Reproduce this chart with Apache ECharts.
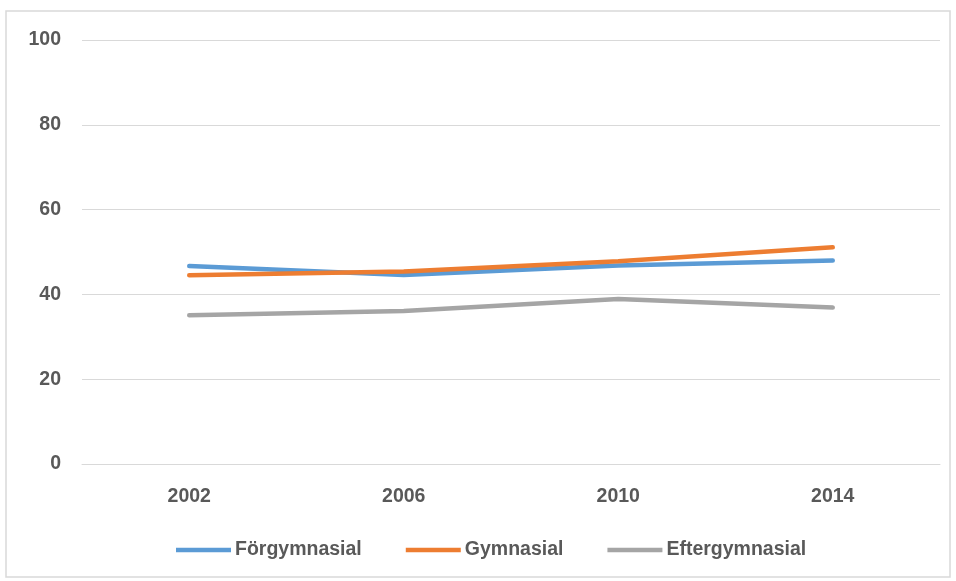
<!DOCTYPE html>
<html><head><meta charset="utf-8">
<script src="https://cdn.jsdelivr.net/npm/echarts@6/dist/echarts.min.js"></script>
<style>html,body{margin:0;padding:0;background:#fff}#c{width:956px;height:581px}</style>
</head><body><div id="c"></div>
<script>
const years = ['2002','2006','2010','2014'];
const forgymnasial = [46.7, 44.6, 46.8, 48.0];
const gymnasial = [44.5, 45.4, 47.8, 51.1];
const eftergymnasial = [35.1, 36.1, 38.9, 36.9];
const yTicks = {min:0, max:100, interval:20};

const font = "'Liberation Sans', Arial, sans-serif";
const chart = echarts.init(document.getElementById('c'));
function line(name, data, color){
  return {name, type:'line', data, symbol:'none', smooth:false,
    lineStyle:{width:4.5, color, cap:'round'}, itemStyle:{color}};
}
chart.setOption({
  animation:false,
  graphic:[{type:'rect', shape:{x:6,y:11,width:944,height:566}, style:{fill:'none', stroke:'#d9d9d9', lineWidth:1.5}, silent:true}],
  grid:{left:82, right:16, top:40, bottom:117},
  legend:{top:535, left:171, icon:'rect', itemWidth:55, itemHeight:4.5, itemGap:44,
    textStyle:{color:'#595959', fontSize:19.5, fontFamily:font, fontWeight:'bold', padding:[0,0,0,-1]},
    data:['Förgymnasial','Gymnasial','Eftergymnasial']},
  xAxis:{type:'category', data:years, boundaryGap:true,
    axisLine:{show:true, lineStyle:{color:'#d9d9d9', width:1}}, axisTick:{show:false},
    axisLabel:{color:'#595959', fontSize:19.5, fontFamily:font, fontWeight:'bold', margin:23}},
  yAxis:{type:'value', min:yTicks.min, max:yTicks.max, interval:yTicks.interval,
    axisLine:{show:false}, axisTick:{show:false},
    splitLine:{lineStyle:{color:'#d9d9d9', width:1}},
    axisLabel:{color:'#595959', fontSize:19.5, fontFamily:font, fontWeight:'bold', margin:21}},
  series:[
    line('Förgymnasial', forgymnasial, '#5B9BD5'),
    line('Gymnasial', gymnasial, '#ED7D31'),
    line('Eftergymnasial', eftergymnasial, '#A5A5A5')
  ]
});
</script></body></html>
